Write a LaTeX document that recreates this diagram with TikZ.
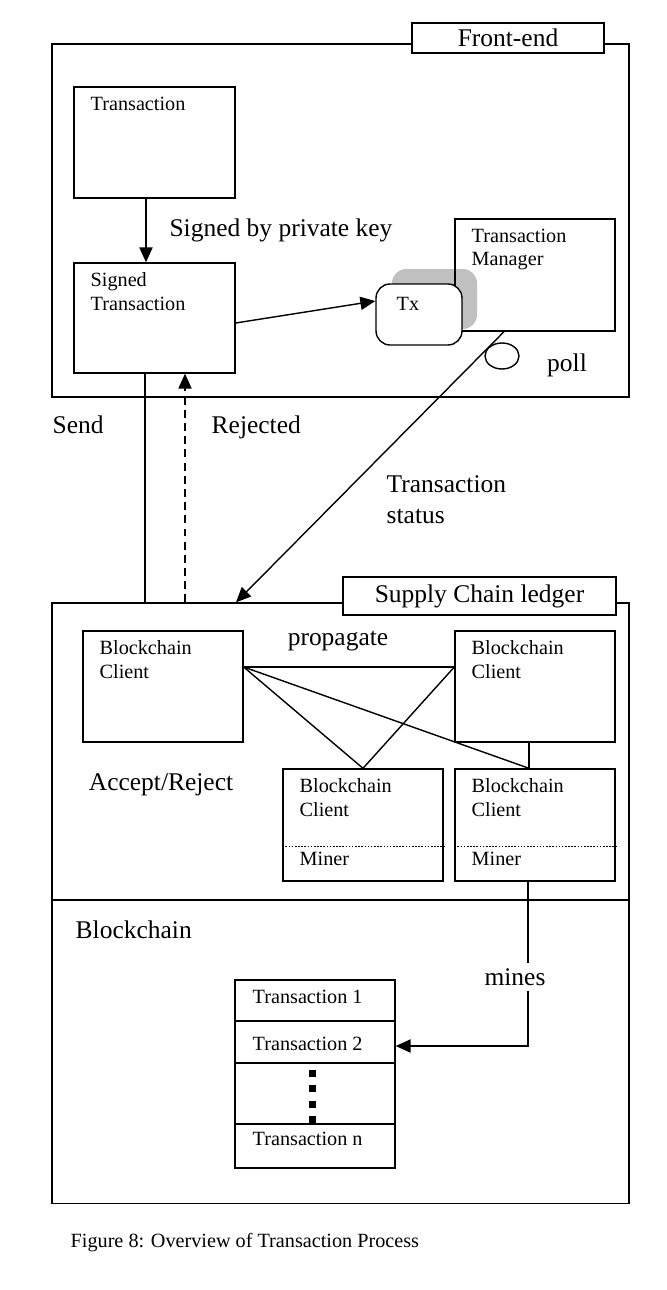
\documentclass[tikz,border=0pt]{standalone}
\usepackage{fontspec}
\setmainfont{Liberation Serif}
\usetikzlibrary{arrows.meta,shapes.geometric}
\definecolor{shadegray}{RGB}{192,192,192}

\begin{document}
\begin{tikzpicture}[x=0.02cm, y=-0.02cm, line width=0.8pt,
  big/.style={font=\fontsize{14.5}{17.4}\selectfont},
  small/.style={font=\fontsize{11.5}{13.6}\selectfont},
  box/.style={draw, rectangle, inner sep=0pt},
  tag/.style={draw, rectangle, fill=white, inner sep=0pt, big},
  txt/.style={inner sep=0pt, align=left, anchor=north west, small},
  arr/.style={-{Triangle[length=8.5pt, width=7.5pt]}},
  split/.style={line width=0.7pt, dash pattern=on 0.9pt off 0.9pt},
  sq/.style={fill=black, inner sep=0pt, minimum size=0.14cm}]
\useasboundingbox (0,0) rectangle (666,1290);

%front-end
\node[box, minimum width=11.54cm, minimum height=7.06cm] (FE) at (340.5,220.5) {};
\node[tag, minimum width=3.84cm, minimum height=0.6cm] (FEtag) at (508,38) {Front-end};
\node[box, minimum width=3.22cm, minimum height=2.22cm] (TX) at (154.5,142.5) {};
\node[txt] (TXt) at (90,96) {Transaction};
\node[box, minimum width=3.22cm, minimum height=2.2cm] (STX) at (154.5,318) {};
\node[txt] (STXt) at (90,272) {Signed\\Transaction};
\node[big, inner sep=0pt] (sign) at (281,230) {Signed by private key};
\node[box, draw=none, fill=shadegray, rounded corners=8pt, minimum width=1.7cm, minimum height=1.2cm] (TXshade) at (434.5,299) {};
\node[box, minimum width=3.2cm, minimum height=2.24cm] (TM) at (535,275) {};
\node[txt] (TMt) at (471,228) {Transaction\\Manager};
\node[box, fill=white, rounded corners=8pt, minimum width=1.72cm, minimum height=1.22cm] (Tx) at (419,314.5) {};
\node[txt] (Txt) at (396,297) {Tx};
\node[draw, ellipse, inner sep=0pt, minimum width=0.68cm, minimum height=0.52cm] (poll) at (502,356) {};
\node[big, inner sep=0pt, anchor=base] (pollt) at (567,372) {poll};
\draw[arr] ([xshift=-0.17cm]TX.south) -- ([xshift=-0.17cm]STX.north);
\draw[arr] ([yshift=-0.1cm]STX.east) -- ([yshift=0.27cm]Tx.west);

%between
\node[big, inner sep=0pt, anchor=base west] (send) at (52,433) {Send};
\node[big, inner sep=0pt, anchor=base west] (rej) at (211,433) {Rejected};
\node[big, inner sep=0pt, anchor=north west, align=left] (status) at (386,475) {Transaction\\status};

%supply chain ledger
\node[box, minimum width=11.54cm, minimum height=5.94cm] (SC) at (340.5,751.5) {};
\node[tag, minimum width=5.46cm, minimum height=0.76cm] (SCtag) at (479.5,596) {Supply Chain ledger};
\draw ([xshift=-0.19cm]STX.south) -- ([xshift=-0.19cm]STX.south |- SC.north);
\draw[arr, dash pattern=on 4.5pt off 3pt] ([xshift=0.61cm]STX.south |- SC.north) -- ([xshift=0.61cm]STX.south);
\draw[arr] ([xshift=-0.62cm]TM.south) -- ([xshift=-2.09cm]SC.north);
\node[box, minimum width=3.2cm, minimum height=2.22cm] (BC1) at (163,686.5) {};
\node[txt] (BC1t) at (99,640) {Blockchain\\Client};
\node[box, minimum width=3.2cm, minimum height=2.22cm] (BC2) at (535,686.5) {};
\node[txt] (BC2t) at (471,640) {Blockchain\\Client};
\node[box, minimum width=3.2cm, minimum height=2.24cm] (BC3) at (363,825) {};
\node[txt] (BC3t) at (299,778) {Blockchain\\Client};
\node[txt] (BC3m) at (299,851) {Miner};
\node[box, minimum width=3.2cm, minimum height=2.24cm] (BC4) at (535,825) {};
\node[txt] (BC4t) at (471,778) {Blockchain\\Client};
\node[txt] (BC4m) at (471,851) {Miner};
\draw[split] ([yshift=-1.56cm]BC3.north west) -- ([yshift=-1.56cm]BC3.north east);
\draw[split] ([yshift=-1.56cm]BC4.north west) -- ([yshift=-1.56cm]BC4.north east);
\node[big, inner sep=0pt, anchor=base] (prop) at (338,645) {propagate};
\node[big, inner sep=0pt, anchor=base] (acc) at (161,790) {Accept/Reject};
\draw ([yshift=0.39cm]BC1.east) -- ([yshift=0.39cm]BC2.west);
\draw ([yshift=0.39cm]BC1.east) -- (BC3.north);
\draw ([yshift=0.39cm]BC1.east) -- ([xshift=-0.12cm]BC4.north);
\draw ([yshift=0.39cm]BC2.west) -- (BC3.north);
\draw ([xshift=-0.12cm]BC2.south) -- ([xshift=-0.12cm]BC4.north);

%blockchain
\node[box, minimum width=11.54cm, minimum height=6.06cm] (BK) at (340.5,1052) {};
\node[big, inner sep=0pt, anchor=base west] (BKt) at (75,938) {Blockchain};
\node[box, minimum width=3.2cm, minimum height=0.82cm] (T1) at (315,1000.5) {};
\node[box, minimum width=3.2cm, minimum height=0.84cm] (T2) at (315,1042) {};
\node[box, minimum width=3.2cm, minimum height=1.22cm] (TD) at (315,1093.5) {};
\node[box, minimum width=3.2cm, minimum height=0.88cm] (TN) at (315,1146) {};
\node[small, inner sep=0pt, anchor=base west] (T1t) at (252,1003) {Transaction 1};
\node[small, inner sep=0pt, anchor=base west] (T2t) at (252,1050) {Transaction 2};
\node[small, inner sep=0pt, anchor=base west] (TNt) at (252,1145) {Transaction n};
\foreach \y in {1073,1088,1104,1119}
  \node[sq] (D\y) at (312,\y) {};
\draw[arr] ([xshift=-0.14cm]BC4.south) |- ([yshift=-0.08cm]T2.east);
\node[big, fill=white, inner sep=3pt, anchor=base] (mines) at (515,985) {mines};

%caption
\node[small, inner sep=0pt, anchor=base west] (cap) at (70,1247) {Figure 8: Overview of Transaction Process};
\end{tikzpicture}
\end{document}
